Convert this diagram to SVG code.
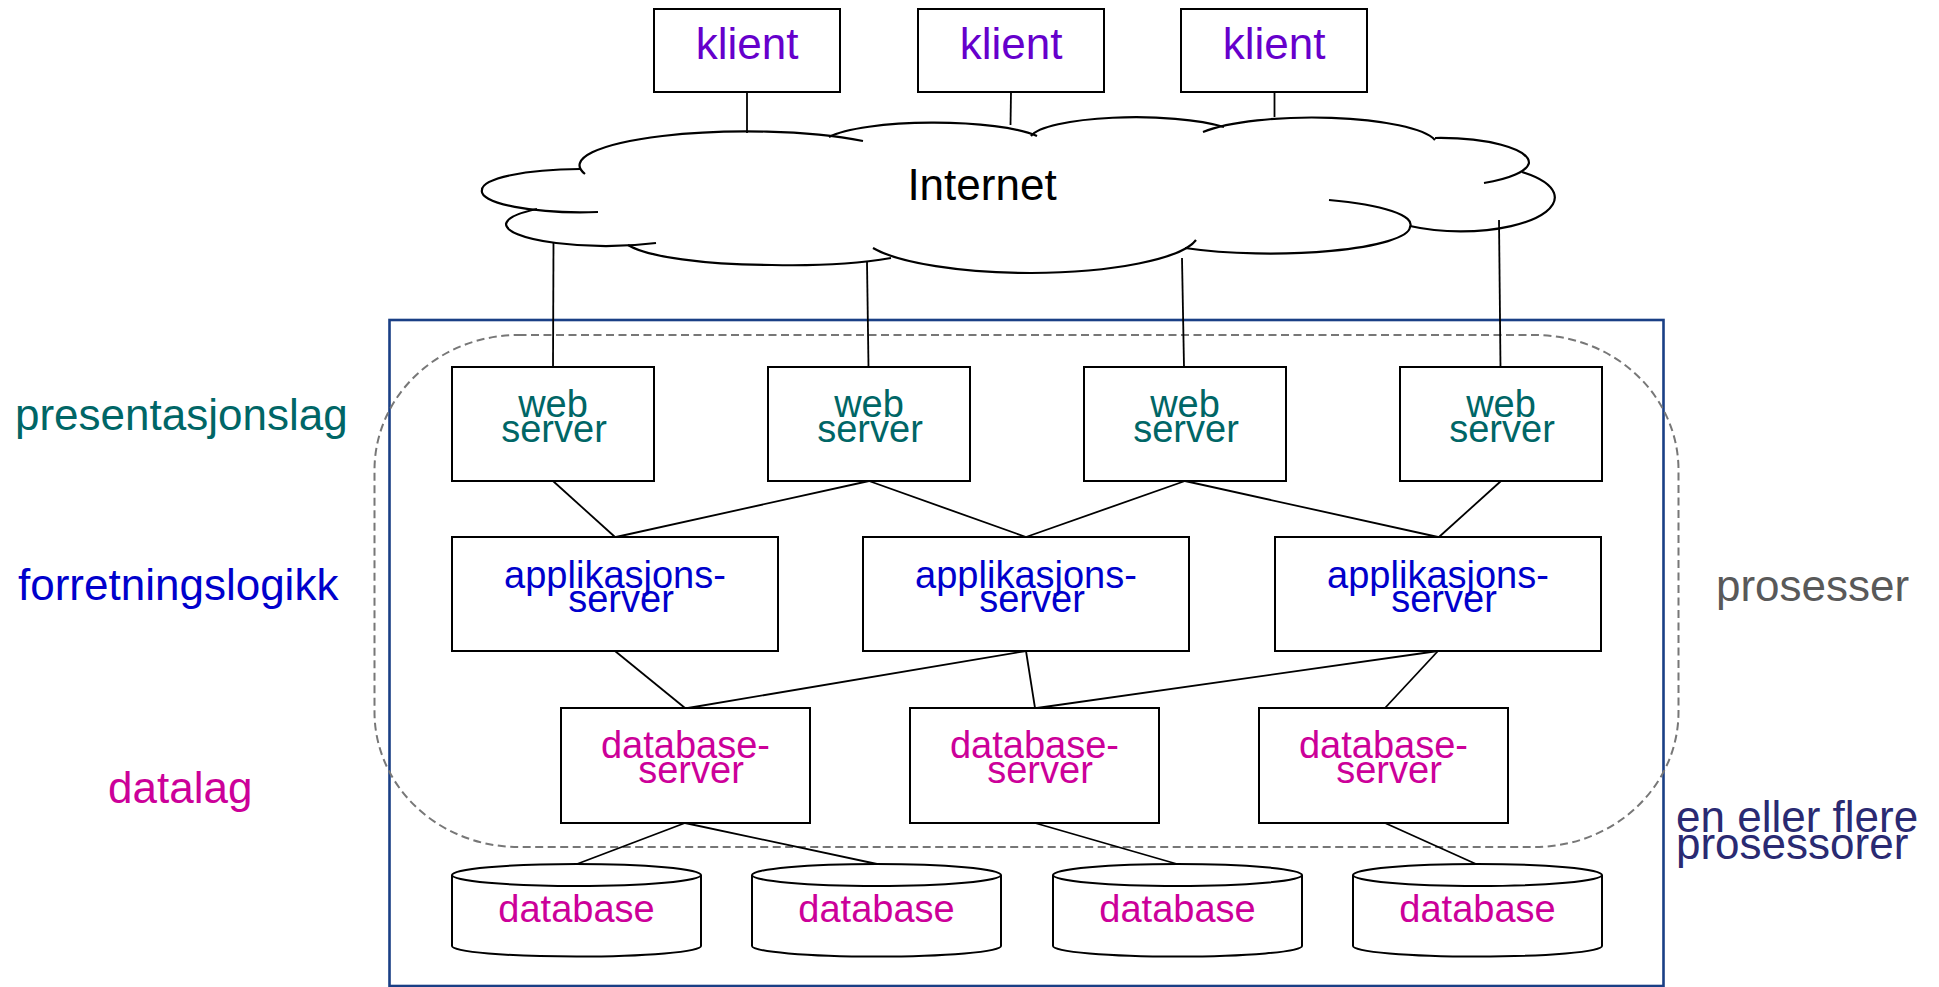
<svg xmlns="http://www.w3.org/2000/svg" width="1939" height="987" viewBox="0 0 1939 987">
<style>
text{font-family:"Liberation Sans",Arial,sans-serif;}
.box{fill:#fff;stroke:#000;stroke-width:2;}
.ln{stroke:#000;stroke-width:1.8;fill:none;}
.cl{stroke:#000;stroke-width:2.2;fill:none;}
.kl{fill:#6600cc;font-size:44px;text-anchor:middle;}
.ws{fill:#006666;font-size:38px;text-anchor:middle;}
.as{fill:#0000cc;font-size:38px;text-anchor:middle;}
.ds{fill:#cc0099;font-size:38px;text-anchor:middle;}
.lbl{font-size:44px;}
</style>
<rect width="1939" height="987" fill="#fff"/>

<g id="outer-frame">
<rect x="389.5" y="320" width="1274" height="666" fill="none" stroke="#1a3f85" stroke-width="2.6"/>
</g>
<g id="process-boundary">
<rect x="374.5" y="335" width="1304" height="512" rx="144" ry="135" fill="none" stroke="#777" stroke-width="2" stroke-dasharray="8 4.5"/>
</g>

<g id="labels">
<text class="lbl" x="15" y="430" fill="#006666">presentasjonslag</text>
<text class="lbl" x="18" y="600" fill="#0000cc">forretningslogikk</text>
<text class="lbl" x="108" y="803" fill="#cc0099">datalag</text>
<text class="lbl" x="1716" y="601" fill="#595959">prosesser</text>
<text class="lbl" x="1676" y="832" fill="#2a2a72">en eller flere</text>
<text class="lbl" x="1676" y="859" fill="#2a2a72">prosessorer</text>
</g>

<g id="connectors">
<line class="ln" x1="747" y1="92" x2="747" y2="133"/>
<line class="ln" x1="1011" y1="92" x2="1010.5" y2="125"/>
<line class="ln" x1="1274.5" y1="92" x2="1274.5" y2="117"/>
<line class="ln" x1="553.5" y1="242" x2="553" y2="367"/>
<line class="ln" x1="867" y1="262" x2="868.5" y2="367"/>
<line class="ln" x1="1182" y1="258" x2="1184" y2="367"/>
<line class="ln" x1="1499" y1="220" x2="1500.5" y2="367"/>
<line class="ln" x1="553" y1="481" x2="615" y2="537"/>
<line class="ln" x1="869" y1="481" x2="616" y2="537"/>
<line class="ln" x1="869" y1="481" x2="1026" y2="537"/>
<line class="ln" x1="1185" y1="481" x2="1026" y2="537"/>
<line class="ln" x1="1185" y1="481" x2="1438" y2="537"/>
<line class="ln" x1="1501" y1="481" x2="1439" y2="537"/>
<line class="ln" x1="615" y1="651" x2="685" y2="708"/>
<line class="ln" x1="1026" y1="651" x2="688" y2="708"/>
<line class="ln" x1="1026" y1="651" x2="1035" y2="708"/>
<line class="ln" x1="1438" y1="651" x2="1037" y2="708"/>
<line class="ln" x1="1438" y1="651" x2="1385" y2="708"/>
<line class="ln" x1="685" y1="823" x2="577" y2="864"/>
<line class="ln" x1="685" y1="823" x2="877" y2="864"/>
<line class="ln" x1="1035" y1="823" x2="1177" y2="864"/>
<line class="ln" x1="1385" y1="823" x2="1476" y2="864"/>
</g>

<g id="internet">
<path class="cl" d="M585 174 A167 34 0 0 1 863 141"/>
<path class="cl" d="M829 137 A112 22 0 0 1 1037 136"/>
<path class="cl" d="M1031 136 A106 22 0 0 1 1224 127"/>
<path class="cl" d="M1203 132 A125 28 0 0 1 1435 140"/>
<path class="cl" d="M1435 138 A89 25 0 0 1 1529 163 A89 25 0 0 1 1484 183"/>
<path class="cl" d="M1522 172 A94 34 0 0 1 1554 193 A94 34 0 0 1 1410 226"/>
<path class="cl" d="M1329 200 A140 27 0 0 1 1410 227 A140 27 0 0 1 1185 248"/>
<path class="cl" d="M1196 240 A170 40 0 0 1 1031 273 A170 40 0 0 1 873 248"/>
<path class="cl" d="M891 258 A150 28 0 0 1 772 265 A150 28 0 0 1 628 245"/>
<path class="cl" d="M656 243 A100 22 0 0 1 506 224 A100 22 0 0 1 537 209"/>
<path class="cl" d="M598 212 A100 21 0 0 1 482 190 A100 21 0 0 1 580 169"/>
<text x="982" y="200" font-size="44" text-anchor="middle" fill="#000">Internet</text>
</g>

<g id="klient1"><rect class="box" x="654" y="9" width="186" height="83"/><text class="kl" x="747" y="59">klient</text></g>
<g id="klient2"><rect class="box" x="918" y="9" width="186" height="83"/><text class="kl" x="1011" y="59">klient</text></g>
<g id="klient3"><rect class="box" x="1181" y="9" width="186" height="83"/><text class="kl" x="1274" y="59">klient</text></g>

<g id="web1"><rect class="box" x="452" y="367" width="202" height="114"/><text class="ws" x="553" y="417">web</text><text class="ws" x="554" y="442">server</text></g>
<g id="web2"><rect class="box" x="768" y="367" width="202" height="114"/><text class="ws" x="869" y="417">web</text><text class="ws" x="870" y="442">server</text></g>
<g id="web3"><rect class="box" x="1084" y="367" width="202" height="114"/><text class="ws" x="1185" y="417">web</text><text class="ws" x="1186" y="442">server</text></g>
<g id="web4"><rect class="box" x="1400" y="367" width="202" height="114"/><text class="ws" x="1501" y="417">web</text><text class="ws" x="1502" y="442">server</text></g>

<g id="app1"><rect class="box" x="452" y="537" width="326" height="114"/><text class="as" x="615" y="588">applikasjons-</text><text class="as" x="621" y="612">server</text></g>
<g id="app2"><rect class="box" x="863" y="537" width="326" height="114"/><text class="as" x="1026" y="588">applikasjons-</text><text class="as" x="1032" y="612">server</text></g>
<g id="app3"><rect class="box" x="1275" y="537" width="326" height="114"/><text class="as" x="1438" y="588">applikasjons-</text><text class="as" x="1444" y="612">server</text></g>

<g id="dbserver1"><rect class="box" x="561" y="708" width="249" height="115"/><text class="ds" x="685.5" y="758">database-</text><text class="ds" x="691" y="783">server</text></g>
<g id="dbserver2"><rect class="box" x="910" y="708" width="249" height="115"/><text class="ds" x="1034.5" y="758">database-</text><text class="ds" x="1040" y="783">server</text></g>
<g id="dbserver3"><rect class="box" x="1259" y="708" width="249" height="115"/><text class="ds" x="1383.5" y="758">database-</text><text class="ds" x="1389" y="783">server</text></g>

<defs>
<g id="cyl">
<path d="M0 11 L0 82 A124.5 10.5 0 0 0 249 82 L249 11" fill="#fff" stroke="#000" stroke-width="2"/>
<ellipse cx="124.5" cy="11" rx="124.5" ry="11" fill="#fff" stroke="#000" stroke-width="2"/>
</g>
</defs>
<g id="db1"><use href="#cyl" x="452" y="864"/><text class="ds" x="576.5" y="922">database</text></g>
<g id="db2"><use href="#cyl" x="752" y="864"/><text class="ds" x="876.5" y="922">database</text></g>
<g id="db3"><use href="#cyl" x="1053" y="864"/><text class="ds" x="1177.5" y="922">database</text></g>
<g id="db4"><use href="#cyl" x="1353" y="864"/><text class="ds" x="1477.5" y="922">database</text></g>
</svg>
